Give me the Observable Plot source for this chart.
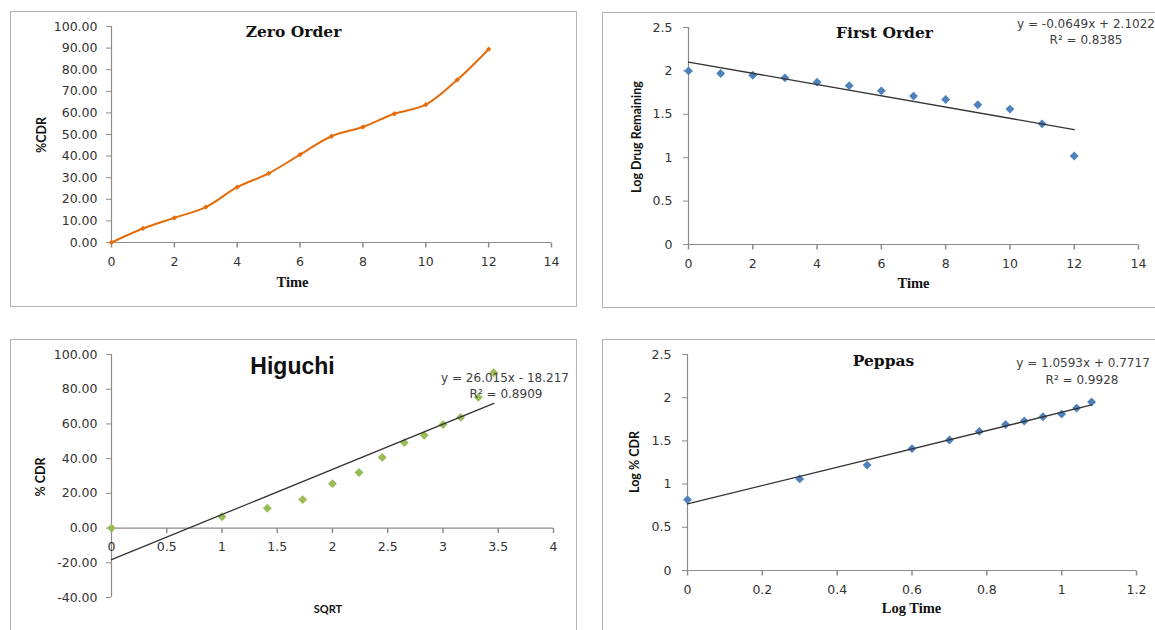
<!DOCTYPE html>
<html><head><meta charset="utf-8">
<script src="https://cdn.jsdelivr.net/npm/d3@7"></script>
<script src="https://cdn.jsdelivr.net/npm/@observablehq/plot@0.6"></script>
<style>
body{margin:0;background:#fff;}
#root{position:relative;width:1155px;height:630px;overflow:hidden;background:#fff;}
.box{position:absolute;border:1.5px solid #b4b4b4;box-sizing:border-box;}
.panel{position:absolute;}
.t{position:absolute;transform:translate(-50%,-50%);white-space:nowrap;line-height:1;color:#111;}
.title{font-family:"DejaVu Serif";font-weight:bold;font-size:15.5px;}
.big{font-family:"Liberation Sans";font-weight:bold;font-size:23px;}
.eq{font-family:"DejaVu Sans";font-size:12px;color:#404040;}
.yl{font-family:Lato;font-weight:bold;font-size:12.5px;transform:translate(-50%,-50%) rotate(-90deg);}
.xl{font-family:"Liberation Serif";font-weight:bold;font-size:14.5px;}
.xs{font-family:Lato;font-weight:bold;font-size:11px;}
</style></head>
<body><div id="root"></div>
<script>
// ---- data ----
const time = [0, 1, 2, 3, 4, 5, 6, 7, 8, 9, 10, 11, 12];
const cdr = [0, 6.5, 11.4, 16.4, 25.6, 32.0, 40.7, 49.2, 53.5, 59.6, 63.8, 75.3, 89.5];
const logRemaining = [2.00, 1.97, 1.95, 1.92, 1.87, 1.83, 1.77, 1.71, 1.67, 1.61, 1.56, 1.39, 1.02];
const sqrtTime = [0, 1, 1.41, 1.73, 2, 2.24, 2.45, 2.65, 2.83, 3, 3.16, 3.32, 3.46];
const higuchiCdr = [0, 6.5, 11.4, 16.4, 25.6, 32.0, 40.7, 49.2, 53.5, 59.6, 63.8, 75.3, 89.5];
const logTime = [0, 0.30, 0.48, 0.60, 0.70, 0.78, 0.85, 0.90, 0.95, 1.00, 1.04, 1.08];
const logCdr = [0.82, 1.06, 1.22, 1.41, 1.51, 1.61, 1.69, 1.73, 1.78, 1.81, 1.88, 1.95];
// trendline coefficients (first order, higuchi, peppas)
const fitSlope = [-0.0649, 26.015, 1.0593];
const fitIntercept = [2.1022, -18.217, 0.7717];
const fitR2 = ["0.8385", "0.8909", "0.9928"];
// tick values
const ticksTime = [0, 2, 4, 6, 8, 10, 12, 14];
const ticksCdr = [0, 10, 20, 30, 40, 50, 60, 70, 80, 90, 100];
const ticksLog = [0, 0.5, 1, 1.5, 2, 2.5];
const ticksSqrt = [0, 0.5, 1, 1.5, 2, 2.5, 3, 3.5, 4];
const ticksHigY = [-40, -20, 0, 20, 40, 60, 80, 100];
const ticksLogTime = [0, 0.2, 0.4, 0.6, 0.8, 1, 1.2];

const root = document.getElementById("root");
const AX = "#8c8c8c", TXT = "#333333";
const tickDown = {draw(ctx) { ctx.moveTo(0, 0); ctx.lineTo(0, 5); }};
const zip = (xs, ys) => xs.map((x, i) => ({x, y: ys[i]}));
const fitLine = (xs, k) => [d3.min(xs), d3.max(xs)].map(x => ({x, y: fitSlope[k] * x + fitIntercept[k]}));
const eqText = k => `y = ${fitSlope[k]}x ${fitIntercept[k] < 0 ? "-" : "+"} ${Math.abs(fitIntercept[k])}`;

function addText(cls, text, x, y) {
  const d = document.createElement("div");
  d.className = "t " + cls;
  d.textContent = text;
  d.style.left = x + "px";
  d.style.top = y + "px";
  root.appendChild(d);
}

function panel(o) {
  const box = document.createElement("div");
  box.className = "box";
  Object.assign(box.style, {left: o.left + "px", top: o.top + "px", width: o.width + "px", height: o.height + "px"});
  root.appendChild(box);
  const svg = Plot.plot({
    width: o.width, height: o.height,
    marginLeft: o.m[0], marginRight: o.m[1], marginTop: o.m[2], marginBottom: o.m[3],
    x: {domain: o.xDomain, axis: null},
    y: {domain: o.yDomain},
    style: {fontFamily: "DejaVu Sans", fontSize: "12.5px", color: TXT, background: "transparent"},
    marks: [
      Plot.ruleX([0], {stroke: AX, strokeWidth: 1.2}),
      Plot.ruleY([0], {stroke: AX, strokeWidth: 1.2}),
      Plot.axisY({ticks: o.yTicks, tickFormat: o.yFormat, tickSize: 5, tickPadding: o.pad, stroke: AX, fill: TXT, label: null}),
      Plot.dot(o.xTicks, {x: d => d, y: 0, symbol: tickDown, stroke: AX, fill: "none"}),
      Plot.text(o.xTicks, {x: d => d, y: 0, dy: 19, text: d => String(d), fill: TXT}),
      ...o.marks
    ]
  });
  svg.classList.add("panel");
  Object.assign(svg.style, {left: o.left + "px", top: o.top + "px"});
  root.appendChild(svg);
}

const f2 = d => d.toFixed(2);

// Zero order
panel({
  left: 10, top: 11, width: 567, height: 296, m: [101, 26, 15, 65], pad: 9,
  xDomain: [0, 14], yDomain: [0, 100], xTicks: ticksTime, yTicks: ticksCdr, yFormat: f2,
  marks: [
    Plot.line(zip(time, cdr), {x: "x", y: "y", stroke: "#E46C0A", strokeWidth: 2, curve: "catmull-rom"}),
    Plot.dot(zip(time, cdr), {x: "x", y: "y", symbol: "diamond2", r: 2.4, fill: "#E46C0A"})
  ]
});
// First order
panel({
  left: 602, top: 12, width: 558, height: 296, m: [86, 22, 15, 64], pad: 11,
  xDomain: [0, 14], yDomain: [0, 2.5], xTicks: ticksTime, yTicks: ticksLog, yFormat: d => String(d),
  marks: [
    Plot.dot(zip(time, logRemaining), {x: "x", y: "y", symbol: "diamond2", r: 4, fill: "#4F81BD"}),
    Plot.line(fitLine(time, 0), {x: "x", y: "y", stroke: "#333", strokeWidth: 1.3})
  ]
});
// Higuchi
panel({
  left: 10, top: 339, width: 567, height: 300, m: [101, 24, 15, 42], pad: 9,
  xDomain: [0, 4], yDomain: [-40, 100], xTicks: ticksSqrt, yTicks: ticksHigY, yFormat: f2,
  marks: [
    Plot.dot(zip(sqrtTime, higuchiCdr), {x: "x", y: "y", symbol: "diamond2", r: 4, fill: "#9BBB59"}),
    Plot.line(fitLine(sqrtTime, 1), {x: "x", y: "y", stroke: "#333", strokeWidth: 1.3})
  ]
});
// Peppas
panel({
  left: 602, top: 339, width: 558, height: 300, m: [85, 24, 15, 69], pad: 11,
  xDomain: [0, 1.2], yDomain: [0, 2.5], xTicks: ticksLogTime, yTicks: ticksLog, yFormat: d => String(d),
  marks: [
    Plot.dot(zip(logTime, logCdr), {x: "x", y: "y", symbol: "diamond2", r: 4, fill: "#4F81BD"}),
    Plot.line(fitLine(logTime, 2), {x: "x", y: "y", stroke: "#333", strokeWidth: 1.3})
  ]
});

// titles, axis labels, equations
addText("title", "Zero Order", 293.5, 32);
addText("title", "First Order", 884.5, 33);
addText("big", "Higuchi", 292.5, 366);
addText("title", "Peppas", 883.5, 361);
addText("yl", "%CDR", 41.5, 135);
addText("xl", "Time", 292.5, 282);
addText("yl", "Log Drug Remaining", 636.5, 136.5);
addText("xl", "Time", 913.5, 283);
addText("yl", "% CDR", 41, 476.5);
addText("xs", "SQRT", 328, 608);
addText("yl", "Log % CDR", 634.5, 462);
addText("xl", "Log Time", 911.5, 608);
addText("eq", eqText(0), 1086, 24);
addText("eq", "R² = " + fitR2[0], 1086, 40);
addText("eq", eqText(1), 505, 378);
addText("eq", "R² = " + fitR2[1], 506, 394);
addText("eq", eqText(2), 1083, 363);
addText("eq", "R² = " + fitR2[2], 1082, 380);
</script>
</body></html>
